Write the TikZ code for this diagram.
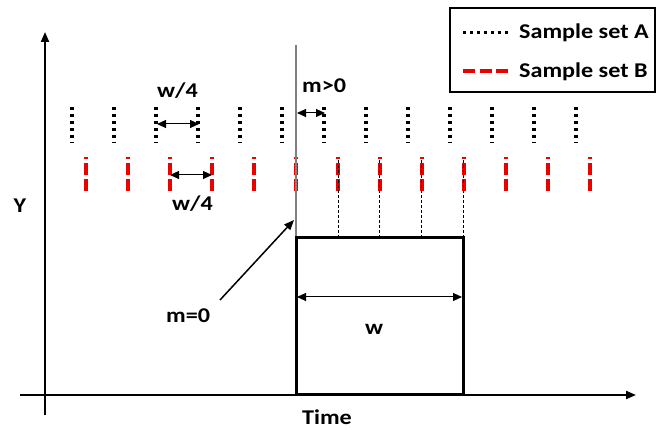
\documentclass[tikz,border=0pt]{standalone}
\usepackage{fontspec}
\newfontfamily\lab[FakeStretch=1.15]{Carlito}
\usetikzlibrary{arrows.meta}
\definecolor{sred}{RGB}{235,0,0}
\tikzset{
  lbl/.style={inner sep=0pt, font=\lab\bfseries\fontsize{21}{25}\selectfont},
  axis/.style={line width=2pt, -{Triangle[length=10pt,width=8pt]}},
  dotsA/.style={line width=3.2pt, dash pattern=on 3pt off 4pt},
  dashB/.style={sred, line width=3.2pt, dash pattern=on 12pt off 4pt, dash phase=10pt},
  dimarrow/.style={line width=1pt, {Triangle[length=9pt,width=8pt]}-{Triangle[length=9pt,width=8pt]}},
  guide/.style={line width=0.7pt, dash pattern=on 3pt off 2pt},
}
\begin{document}
\begin{tikzpicture}[x=1pt,y=-1pt]
\useasboundingbox (0,0) rectangle (657,430);
% axes
\coordinate (ybot) at (45,415); \coordinate (ytop) at (45,32);
\coordinate (xl) at (20,395); \coordinate (xr) at (636,395);
\draw[axis] (ybot) -- (ytop);
\draw[axis] (xl) -- (xr);
% sample set A
\foreach \i in {0,...,12} {
  \draw[dotsA] ({72+42*\i},107) -- ({72+42*\i},143);
}
% sample set B
\foreach \i in {0,...,12} {
  \draw[dashB] ({86+42*\i},157) -- ({86+42*\i},193);
}
% guide dashed lines
\foreach \xx in {338,379.5,421,463} {
  \draw[guide] (\xx,160) -- (\xx,238);
}
% gray m=0 line
\draw[gray, line width=1.5pt] (296,45) -- (296,238);
% box
\draw[line width=3pt] (296,238) rectangle (463,395);
% dimension arrows
\coordinate (a1) at (157,124); \coordinate (a2) at (199,124);
\draw[dimarrow] (a1) -- (a2);
\coordinate (b1) at (170,175); \coordinate (b2) at (212,175);
\draw[dimarrow] (b1) -- (b2);
\coordinate (c1) at (297,113); \coordinate (c2) at (325,113);
\draw[dimarrow] (c1) -- (c2);
\coordinate (d1) at (297,297); \coordinate (d2) at (462,297);
\draw[dimarrow] (d1) -- (d2);
\coordinate (e1) at (220,300); \coordinate (e2) at (294,220);
\draw[line width=1.5pt, -{Triangle[length=10pt,width=8pt]}] (e1) -- (e2);
% labels
\node[lbl, anchor=base west] (tw1) at (157,98) {w/4};
\node[lbl, anchor=base west] (tw2) at (172,211) {w/4};
\node[lbl, anchor=base west] (tm1) at (302,93) {m>0};
\node[lbl, anchor=base west] (tm0) at (166,323) {m=0};
\node[lbl, anchor=base] (tw) at (374,335) {w};
\node[lbl, anchor=base west] (tt) at (302,425) {Time};
\node[lbl, anchor=base] (ty) at (20,213) {Y};
% legend
\draw[line width=1.2pt] (450,8) rectangle (655,92);
\coordinate (la1) at (463,33); \coordinate (la2) at (508,33);
\draw[line width=3pt, dash pattern=on 3pt off 4pt] (la1) -- (la2);
\coordinate (lb1) at (463,71); \coordinate (lb2) at (508,71);
\draw[sred, line width=3.5pt, dash pattern=on 12pt off 4.5pt] (lb1) -- (lb2);
\node[lbl, anchor=base west] (lA) at (519,39) {Sample set A};
\node[lbl, anchor=base west] (lB) at (519,78) {Sample set B};
\end{tikzpicture}
\end{document}
